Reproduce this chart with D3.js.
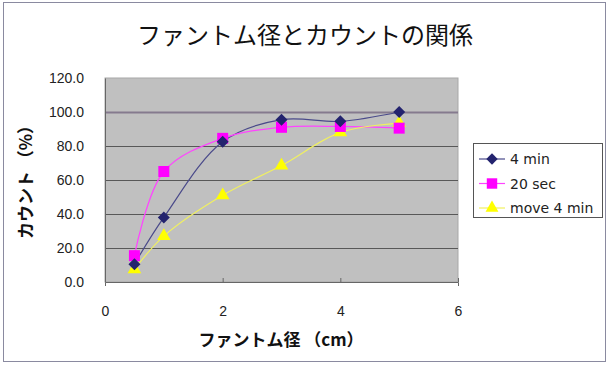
<!DOCTYPE html>
<html>
<head>
<meta charset="utf-8">
<script src="https://cdn.jsdelivr.net/npm/d3@7"></script>
<style>
	body { margin: 0; background: #fff; }
	svg { display: block; font-family: "DejaVu Sans", "Noto Sans CJK JP", sans-serif; }
	.jp { font-family: "Noto Sans CJK JP", sans-serif; }
</style>
</head>
<body>
<svg class="chart"></svg>
<script>
// data
const sizes = [0.5, 1, 2, 3, 4, 5];
const min4 = [10.5, 38, 82.5, 95.5, 94.5, 100];
const sec20 = [15.5, 65, 84.5, 91, 91.5, 90.5];
const move4 = [7.5, 27, 51, 68.5, 88, 93.5];
const seriesNames = ["4 min", "20 sec", "move 4 min"];
const xTicks = [0, 2, 4, 6];
const yTicks = [0, 20, 40, 60, 80, 100, 120];

var width = 610,
	height = 367;
var plot = { left: 105, right: 458, top: 78, bottom: 282 };

var svg = d3.select(".chart").attr("width", width).attr("height", height);

// outer frame
svg
	.append("rect")
	.attr("x", 3.5)
	.attr("y", 2.5)
	.attr("width", 602)
	.attr("height", 359)
	.attr("fill", "#fff")
	.attr("stroke", "#8a8aa0")
	.attr("stroke-width", 1);

let x = d3.scaleLinear().domain([0, 6]).range([plot.left, plot.right]);
let y = d3.scaleLinear().domain([0, 120]).range([plot.bottom, plot.top]);

// plot area
svg
	.append("rect")
	.attr("x", plot.left)
	.attr("y", plot.top)
	.attr("width", plot.right - plot.left)
	.attr("height", plot.bottom - plot.top)
	.attr("fill", "#c0c0c0")
	.attr("stroke", "#a8a8a8");

// gridlines
svg
	.append("g")
	.selectAll("line")
	.data(yTicks.filter((d) => d > 0 && d < 120))
	.join("line")
	.attr("x1", plot.left)
	.attr("x2", plot.right)
	.attr("y1", (d) => Math.round(y(d)) + 0.5)
	.attr("y2", (d) => Math.round(y(d)) + 0.5)
	.attr("stroke", (d) => (d === 100 ? "#857a8e" : "#585858"))
	.attr("stroke-width", (d) => (d === 100 ? 2 : 1));

// axes
let xAxis = (g) =>
	g
		.attr("transform", `translate(0,${plot.bottom})`)
		.call(d3.axisBottom(x).tickValues(xTicks).tickSize(4).tickPadding(20).tickFormat(d3.format("d")))
		.call((g) => g.select(".domain").attr("stroke", "#666"))
		.call((g) => g.selectAll(".tick line").attr("stroke", "#666").attr("transform", "translate(0,-4)"))
		.call((g) => g.selectAll(".tick text").attr("fill", "#222").attr("font-size", 14));

let yAxis = (g) =>
	g
		.attr("transform", `translate(${plot.left},0)`)
		.call(d3.axisLeft(y).tickValues(yTicks).tickSize(0).tickPadding(21).tickFormat(d3.format(".1f")))
		.call((g) => g.select(".domain").attr("stroke", "#666"))
		.call((g) => g.selectAll(".tick text").attr("fill", "#222").attr("font-size", 14));

svg.append("g").call(xAxis);
svg.append("g").call(yAxis);

// titles
svg
	.append("text")
	.attr("class", "jp")
	.attr("x", 305)
	.attr("y", 44)
	.attr("text-anchor", "middle")
	.attr("font-size", 24)
	.attr("fill", "#111")
	.text("ファントム径とカウントの関係");

svg
	.append("text")
	.attr("class", "jp")
	.attr("x", 281)
	.attr("y", 346)
	.attr("text-anchor", "middle")
	.attr("font-size", 17)
	.attr("font-weight", "bold")
	.attr("fill", "#111")
	.text("ファントム径 （cm）");

svg
	.append("text")
	.attr("class", "jp")
	.attr("transform", "translate(32,178) rotate(-90)")
	.attr("text-anchor", "middle")
	.attr("font-size", 17)
	.attr("font-weight", "bold")
	.attr("fill", "#111")
	.text("カウント （%）");

// series
var series = [
	{ name: seriesNames[0], values: min4, line: "#4a4a8a", fill: "#23236e", shape: d3.symbolSquare, size: 72, rot: 45 },
	{ name: seriesNames[1], values: sec20, line: "#ff44ff", fill: "#ff00ff", shape: d3.symbolSquare, size: 121, rot: 0 },
	{ name: seriesNames[2], values: move4, line: "#f0f060", fill: "#ffff00", shape: d3.symbolTriangle, size: 80, rot: 0 },
];

let line = d3
	.line()
	.curve(d3.curveCatmullRom.alpha(0.5))
	.x((d, i) => x(sizes[i]))
	.y((d) => y(d));

// lines first, markers on top (4 min drawn last)
series.forEach((s) => {
	svg
		.append("path")
		.attr("d", line(s.values))
		.attr("fill", "none")
		.attr("stroke", s.line)
		.attr("stroke-width", 1.2);
});

[series[2], series[1], series[0]].forEach((s) => {
	svg
		.append("g")
		.selectAll("path")
		.data(s.values)
		.join("path")
		.attr("transform", (d, i) => `translate(${x(sizes[i])},${y(d)}) rotate(${s.rot})`)
		.attr("d", d3.symbol().type(s.shape).size(s.size))
		.attr("fill", s.fill);
});

// legend
var legend = svg.append("g").attr("transform", "translate(473,143)");
legend
	.append("rect")
	.attr("x", 0.5)
	.attr("y", 0.5)
	.attr("width", 129)
	.attr("height", 74)
	.attr("fill", "#fff")
	.attr("stroke", "#555");

series.forEach((s, i) => {
	var row = legend.append("g").attr("transform", `translate(0,${16 + i * 24.5})`);
	row
		.append("line")
		.attr("x1", 6)
		.attr("x2", 32)
		.attr("stroke", s.line)
		.attr("stroke-width", 1.2);
	row
		.append("path")
		.attr("transform", `translate(19,0) rotate(${s.rot})`)
		.attr("d", d3.symbol().type(s.shape).size(s.size * 0.9))
		.attr("fill", s.fill);
	row
		.append("text")
		.attr("x", 37)
		.attr("y", 5)
		.attr("font-size", 14)
		.attr("fill", "#222")
		.text(s.name);
});
</script>
</body>
</html>
